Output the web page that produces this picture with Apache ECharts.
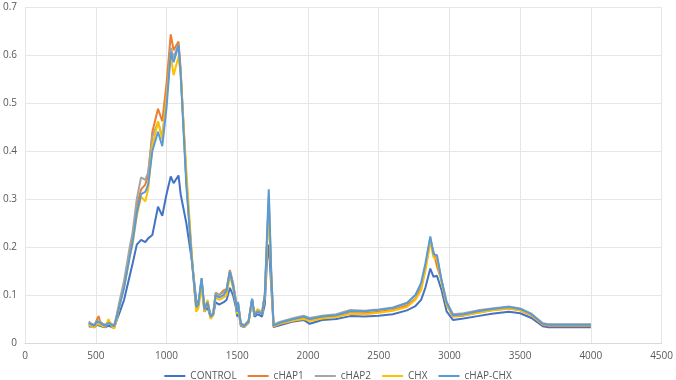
<!DOCTYPE html>
<html>
<head>
<meta charset="utf-8">
<script src="https://cdn.jsdelivr.net/npm/echarts@6/dist/echarts.min.js"></script>
<style>
  html, body { margin: 0; padding: 0; background: #fff; }
  #chart { width: 676px; height: 380px; }
</style>
</head>
<body>
<div id="chart"></div>
<script>
// wavenumber (x) values shared by all series
const wavenumber = [450, 470, 490, 510, 520, 530, 550, 570, 590, 600, 615, 630, 645, 670, 700, 740, 760, 790, 820, 850,
  870, 900, 940, 970, 1000, 1030, 1050, 1085, 1100, 1140, 1180, 1210, 1225, 1248, 1268, 1290, 1312, 1330, 1348, 1372,
  1405, 1425, 1448, 1470, 1490, 1500, 1505, 1525, 1550, 1580, 1605, 1622, 1645, 1675, 1695, 1710, 1723, 1740, 1757, 1800,
  1900, 1970, 2012, 2100, 2200, 2300, 2400, 2500, 2600, 2700, 2760, 2800, 2830, 2865, 2888, 2912, 2945, 2980, 3025, 3100,
  3200, 3300, 3420, 3500, 3580, 3660, 3700, 3800, 3900, 4000];

const control = [0.035, 0.034, 0.033, 0.038, 0.040, 0.036, 0.034, 0.033, 0.036, 0.035, 0.033, 0.032, 0.045, 0.065, 0.090, 0.140, 0.165, 0.205, 0.215, 0.210,
  0.218, 0.225, 0.284, 0.265, 0.310, 0.347, 0.333, 0.349, 0.310, 0.250, 0.170, 0.090, 0.080, 0.128, 0.065, 0.075, 0.052, 0.058, 0.085, 0.080,
  0.085, 0.090, 0.115, 0.100, 0.075, 0.055, 0.075, 0.036, 0.033, 0.042, 0.092, 0.055, 0.060, 0.055, 0.080, 0.170, 0.205, 0.120, 0.033, 0.037,
  0.045, 0.048, 0.040, 0.048, 0.050, 0.056, 0.055, 0.057, 0.060, 0.068, 0.077, 0.090, 0.115, 0.155, 0.138, 0.140, 0.110, 0.066, 0.048, 0.051,
  0.056, 0.061, 0.065, 0.062, 0.052, 0.035, 0.033, 0.033, 0.033, 0.033];

const chap1 = [0.040, 0.037, 0.036, 0.050, 0.056, 0.045, 0.038, 0.036, 0.044, 0.040, 0.036, 0.034, 0.050, 0.085, 0.120, 0.190, 0.220, 0.285, 0.320, 0.330,
  0.350, 0.440, 0.488, 0.462, 0.540, 0.643, 0.610, 0.628, 0.570, 0.340, 0.170, 0.072, 0.078, 0.130, 0.072, 0.085, 0.055, 0.062, 0.105, 0.100,
  0.110, 0.112, 0.152, 0.125, 0.088, 0.066, 0.085, 0.040, 0.034, 0.045, 0.085, 0.060, 0.070, 0.063, 0.100, 0.200, 0.290, 0.140, 0.035, 0.040,
  0.048, 0.052, 0.048, 0.053, 0.056, 0.062, 0.062, 0.065, 0.069, 0.078, 0.092, 0.115, 0.155, 0.213, 0.190, 0.160, 0.130, 0.080, 0.055, 0.057,
  0.063, 0.068, 0.072, 0.068, 0.057, 0.038, 0.036, 0.036, 0.036, 0.036];

const chap2 = [0.045, 0.040, 0.038, 0.046, 0.050, 0.044, 0.040, 0.038, 0.045, 0.042, 0.039, 0.037, 0.055, 0.090, 0.130, 0.200, 0.230, 0.300, 0.345, 0.340,
  0.355, 0.430, 0.460, 0.430, 0.510, 0.615, 0.595, 0.622, 0.565, 0.340, 0.175, 0.078, 0.082, 0.135, 0.072, 0.088, 0.057, 0.063, 0.104, 0.100,
  0.106, 0.112, 0.150, 0.125, 0.090, 0.068, 0.086, 0.042, 0.037, 0.047, 0.090, 0.060, 0.068, 0.062, 0.100, 0.210, 0.305, 0.150, 0.038, 0.044,
  0.052, 0.057, 0.052, 0.057, 0.060, 0.069, 0.067, 0.070, 0.074, 0.084, 0.100, 0.122, 0.160, 0.218, 0.185, 0.180, 0.130, 0.086, 0.060, 0.062,
  0.068, 0.072, 0.076, 0.072, 0.061, 0.041, 0.039, 0.039, 0.039, 0.039];

const chx = [0.038, 0.034, 0.033, 0.040, 0.044, 0.038, 0.035, 0.034, 0.050, 0.042, 0.034, 0.030, 0.045, 0.080, 0.115, 0.180, 0.205, 0.265, 0.305, 0.295,
  0.320, 0.410, 0.462, 0.425, 0.510, 0.600, 0.558, 0.597, 0.560, 0.360, 0.180, 0.065, 0.072, 0.115, 0.065, 0.090, 0.050, 0.058, 0.095, 0.090,
  0.095, 0.100, 0.140, 0.115, 0.082, 0.060, 0.080, 0.038, 0.034, 0.043, 0.085, 0.058, 0.070, 0.060, 0.095, 0.200, 0.280, 0.140, 0.035, 0.040,
  0.047, 0.050, 0.046, 0.051, 0.054, 0.061, 0.060, 0.063, 0.067, 0.075, 0.090, 0.110, 0.150, 0.210, 0.178, 0.175, 0.125, 0.080, 0.056, 0.058,
  0.063, 0.068, 0.072, 0.068, 0.058, 0.039, 0.037, 0.037, 0.037, 0.037];

const chapChx = [0.042, 0.038, 0.036, 0.045, 0.048, 0.042, 0.038, 0.036, 0.042, 0.040, 0.037, 0.035, 0.050, 0.080, 0.115, 0.180, 0.210, 0.270, 0.310, 0.315,
  0.330, 0.400, 0.440, 0.410, 0.490, 0.605, 0.585, 0.620, 0.560, 0.330, 0.170, 0.075, 0.080, 0.135, 0.070, 0.085, 0.055, 0.060, 0.100, 0.095,
  0.100, 0.110, 0.148, 0.120, 0.085, 0.065, 0.085, 0.040, 0.035, 0.045, 0.092, 0.058, 0.066, 0.060, 0.100, 0.220, 0.320, 0.150, 0.036, 0.042,
  0.050, 0.055, 0.050, 0.055, 0.058, 0.066, 0.066, 0.069, 0.073, 0.083, 0.100, 0.125, 0.165, 0.222, 0.185, 0.183, 0.130, 0.085, 0.058, 0.060,
  0.066, 0.071, 0.075, 0.071, 0.060, 0.040, 0.038, 0.038, 0.038, 0.038];

const seriesNames = ['CONTROL', 'cHAP1', 'cHAP2', 'CHX', 'cHAP-CHX'];
const seriesValues = [control, chap1, chap2, chx, chapChx];
const colors = ['#4472C4', '#ED7D31', '#A5A5A5', '#FFC000', '#5B9BD5'];

const chart = echarts.init(document.getElementById('chart'));

const textStyle = { color: '#595959', fontSize: 10, fontFamily: 'Open Sans' };

chart.setOption({
  animation: false,
  color: colors,
  grid: { left: 22.5, right: 11, top: 7, bottom: 37 },
  legend: {
    data: seriesNames,
    top: 366,
    left: 'center',
    icon: 'rect',
    itemWidth: 21,
    itemHeight: 2,
    itemGap: 11,
    textStyle: textStyle
  },
  xAxis: {
    type: 'value',
    min: 0,
    max: 4500,
    interval: 500,
    axisLine: { show: true, lineStyle: { color: '#d9d9d9' } },
    axisTick: { show: false },
    axisLabel: Object.assign({ margin: 8, formatter: v => String(v) }, textStyle),
    splitLine: { show: true, lineStyle: { color: '#e6e6e6' } }
  },
  yAxis: {
    type: 'value',
    min: 0,
    max: 0.7,
    interval: 0.1,
    axisLine: { show: false },
    axisTick: { show: false },
    axisLabel: Object.assign({ margin: 8, formatter: v => String(Math.round(v * 10) / 10) }, textStyle),
    splitLine: { show: true, lineStyle: { color: '#e6e6e6' } }
  },
  series: seriesNames.map((name, i) => ({
    name: name,
    type: 'line',
    symbol: 'none',
    data: wavenumber.map((x, j) => [x, seriesValues[i][j]]),
    lineStyle: { width: 2, color: colors[i] },
    itemStyle: { color: colors[i] }
  }))
});
</script>
</body>
</html>
